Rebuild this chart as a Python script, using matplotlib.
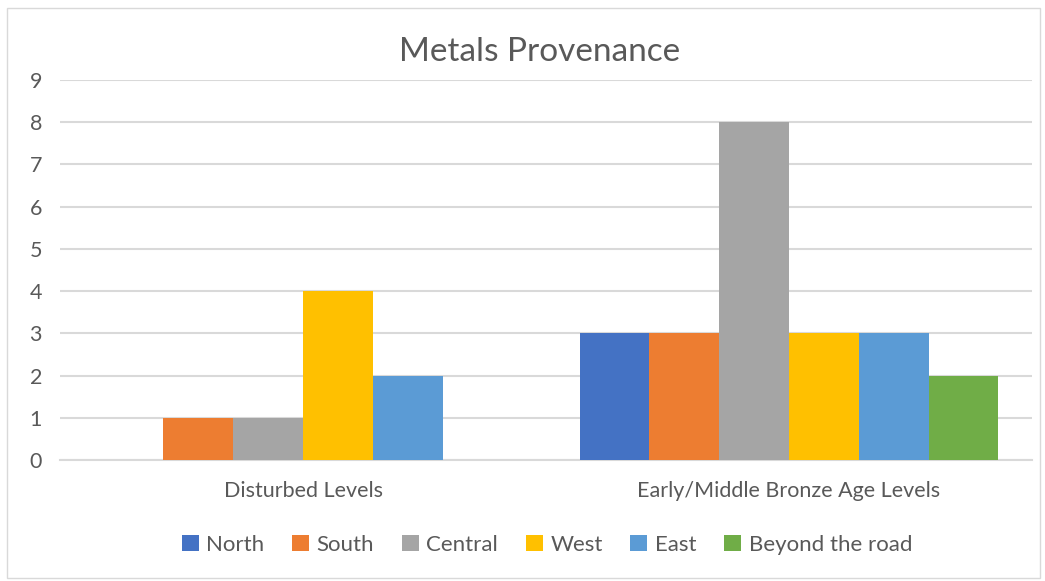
import matplotlib
matplotlib.use("Agg")
import matplotlib.pyplot as plt
import numpy as np
from matplotlib.patches import Rectangle

categories = ["Disturbed Levels", "Early/Middle Bronze Age Levels"]
series_names = ["North", "South", "Central", "West", "East", "Beyond the road"]
north = [0, 3]
south = [1, 3]
central = [1, 8]
west = [4, 3]
east = [2, 3]
beyond_road = [0, 2]
colors = ["#4472C4", "#ED7D31", "#A5A5A5", "#FFC000", "#5B9BD5", "#70AD47"]
y_ticks = list(range(0, 10))

series_values = [north, south, central, west, east, beyond_road]

plt.rcParams["font.family"] = ["Lato", "DejaVu Sans"]
text_color = "#595959"
grid_color = "#D9D9D9"

W, H = 1045, 581
fig = plt.figure(figsize=(W / 100, H / 100), dpi=100)
fig.patch.set_facecolor("white")

# thin frame around the chart area
fig.add_artist(Rectangle((7 / W, 3 / H), 1033 / W, 570 / H, transform=fig.transFigure,
                         fill=False, edgecolor="#D9D9D9", linewidth=1.0))

ax = fig.add_axes([60 / W, (H - 460) / H, (1032 - 60) / W, 380 / H])

n = len(series_names)
bar_w = 0.862 / n
x = np.arange(len(categories))
for i, (name, vals, c) in enumerate(zip(series_names, series_values, colors)):
    offs = (i - (n - 1) / 2) * bar_w
    ax.bar(x + offs, vals, width=bar_w, color=c, label=name, zorder=3,
           edgecolor="none")

ax.set_xlim(-0.5, len(categories) - 0.5)
ax.set_ylim(0, 9)
ax.set_yticks(y_ticks)
ax.set_xticks(x)
ax.set_xticklabels(categories)
ax.yaxis.grid(True, color=grid_color, linewidth=1.5, zorder=0)
ax.set_axisbelow(True)
for s in ["top", "right", "left"]:
    ax.spines[s].set_visible(False)
ax.spines["bottom"].set_color(grid_color)
ax.spines["bottom"].set_linewidth(1.5)
ax.tick_params(axis="both", length=0, colors=text_color, labelsize=15.5)
ax.tick_params(axis="y", pad=13)
ax.tick_params(axis="x", pad=15)

fig.text(540 / W, 1 - 52 / H, "Metals Provenance", ha="center", va="center",
         fontsize=24, color=text_color)

leg = fig.legend(loc="center", bbox_to_anchor=(547 / W, 1 - 545 / H), ncol=n,
                 frameon=False, fontsize=16, handlelength=0.75, handleheight=0.75,
                 handletextpad=0.35, columnspacing=1.25)
for t in leg.get_texts():
    t.set_color(text_color)

fig.savefig("out.png", dpi=100)
